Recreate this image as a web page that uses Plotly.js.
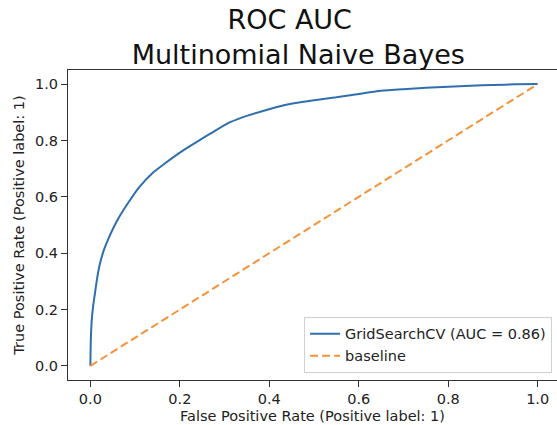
<!DOCTYPE html>
<html>
<head>
<meta charset="utf-8">
<script src="https://cdn.plot.ly/plotly-3.0.1.min.js"></script>
<style>html,body{margin:0;padding:0;background:#fff;}#chart{width:557px;height:425px;}</style>
</head>
<body>
<div id="chart"></div>
<script>
// ROC curve
const fpr = [0, 0.001, 0.003, 0.006, 0.01, 0.015, 0.021, 0.03, 0.04, 0.05, 0.065, 0.085, 0.108, 0.138, 0.168, 0.205, 0.24, 0.27, 0.306, 0.34, 0.38, 0.415, 0.455, 0.50, 0.55, 0.604, 0.65, 0.70, 0.75, 0.80, 0.85, 0.90, 0.95, 1.0];
const tpr = [0, 0.09, 0.16, 0.21, 0.255, 0.31, 0.36, 0.41, 0.45, 0.485, 0.53, 0.58, 0.632, 0.683, 0.72, 0.762, 0.797, 0.826, 0.86, 0.882, 0.902, 0.918, 0.932, 0.943, 0.953, 0.966, 0.976, 0.982, 0.987, 0.991, 0.994, 0.997, 0.999, 1.0];
const baselineX = [0, 1];
const baselineY = [0, 1];
const rocName = "GridSearchCV (AUC = 0.86)";
const baseName = "baseline";
const tickVals = [0, 0.2, 0.4, 0.6, 0.8, 1.0];
const tickText = ["0.0", "0.2", "0.4", "0.6", "0.8", "1.0"];

const FONT = "DejaVu Sans, sans-serif";

const traces = [
  {x: fpr, y: tpr, type: "scatter", mode: "lines", name: rocName,
   line: {color: "#2f6fae", width: 2, shape: "spline", smoothing: 0.6}},
  {x: baselineX, y: baselineY, type: "scatter", mode: "lines", name: baseName,
   line: {color: "#f5923a", width: 2, dash: "8px,4px"}}
];

const axisCommon = {
  showgrid: false, zeroline: false, showline: true, linecolor: "#333", linewidth: 1,
  ticks: "outside", ticklen: 6, tickcolor: "#333", tickwidth: 1,
  tickvals: tickVals, ticktext: tickText,
  tickfont: {family: FONT, size: 14.5, color: "#222"}
};

const layout = {
  width: 557, height: 425,
  margin: {l: 68, r: 0, t: 70, b: 45},
  paper_bgcolor: "#fff", plot_bgcolor: "#fff",
  font: {family: FONT, color: "#222"},
  title: {
    text: "ROC AUC&nbsp;<br>&nbsp;Multinomial Naive Bayes",
    font: {family: FONT, size: 27, color: "#111"},
    x: 294 / 557, xanchor: "center", xref: "container",
    y: 1 - 29 / 425, yanchor: "top", yref: "container"
  },
  xaxis: Object.assign({}, axisCommon, {
    range: [-0.05, 1.0432], mirror: true,
    title: {text: "False Positive Rate (Positive label: 1)", font: {family: FONT, size: 14.5, color: "#222"}, standoff: 4}
  }),
  yaxis: Object.assign({}, axisCommon, {
    range: [-0.05, 1.05], mirror: false,
    title: {text: "True Positive Rate (Positive label: 1)", font: {family: FONT, size: 14.5, color: "#222"}, standoff: 6}
  }),
  showlegend: true,
  legend: {
    x: 0.99, xanchor: "right", y: 0.023, yanchor: "bottom",
    bgcolor: "rgba(255,255,255,0.8)", bordercolor: "#d0d0d0", borderwidth: 1,
    font: {family: FONT, size: 14.5, color: "#222"}
  }
};

Plotly.newPlot("chart", traces, layout, {displayModeBar: false, staticPlot: true});
</script>
</body>
</html>
